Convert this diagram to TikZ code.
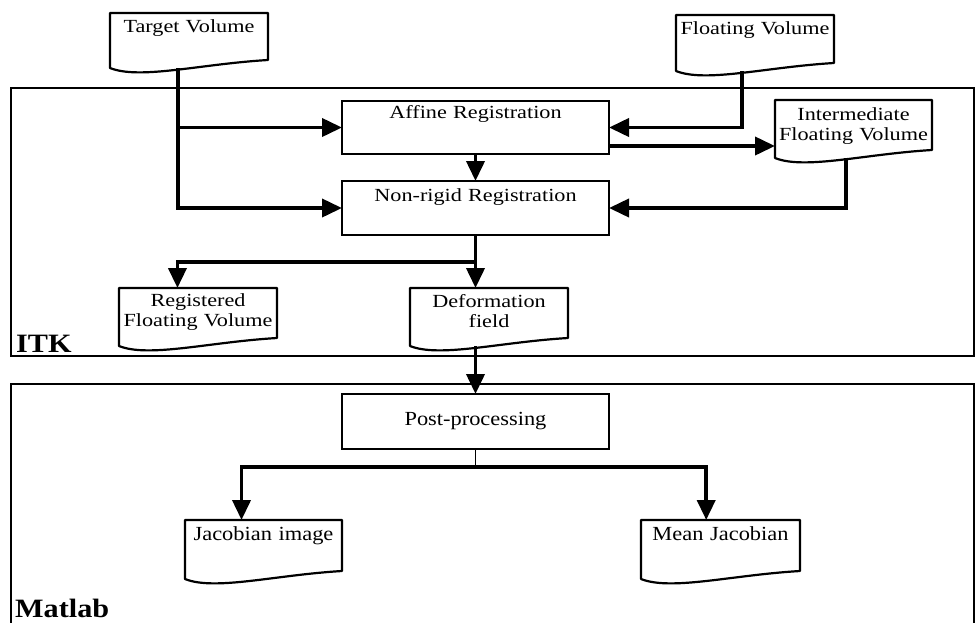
\documentclass[tikz,border=0pt]{standalone}
\usepackage{fontspec}
\setmainfont{Liberation Serif}
\newfontfamily\upfont[FakeStretch=1.2]{Liberation Serif}
\newfontfamily\lowfont[FakeStretch=1.12]{Liberation Serif}
\newfontfamily\lblfont[FakeStretch=1.14]{Liberation Serif}
\usetikzlibrary{arrows.meta,calc}
\begin{document}
\begin{tikzpicture}[x=1pt,y=-1pt,
  frame/.style={draw, line width=2pt, rectangle, inner sep=0pt, outer sep=0pt, anchor=north west},
  proc/.style={draw, line width=2pt, rectangle, inner sep=0pt, outer sep=0pt, anchor=north west, align=center},
  doc/.style={rectangle, inner sep=0pt, outer sep=0pt, anchor=north west, align=center},
  upper/.style={font=\upfont\fontsize{18.5}{20.5}\selectfont},
  lower/.style={font=\lowfont\fontsize{20}{21}\selectfont},
  lbl/.style={anchor=base west, inner sep=0pt, font=\lblfont\bfseries\fontsize{26.5}{28}\selectfont},
  docline/.style={line width=2.2pt, line join=round},
  conn/.style={line width=3.8pt, -{Triangle[length=20pt,width=18pt]}},
  thickline/.style={line width=3.8pt},
  thinline/.style={line width=1.8pt}
]
\useasboundingbox (0,0) rectangle (976,622);

% frames
\node[frame, minimum width=963pt, minimum height=268pt] (itk) at (11,88) {};
\node[frame, minimum width=963pt, minimum height=245pt] (mat) at (11,384) {};
\node[lbl] (itklbl) at (16,352) {ITK};
\node[lbl] (matlbl) at (15,617) {Matlab};

% documents
\node[doc, upper, text width=158pt, text height=19pt, text depth=36pt] (tv) at (110,13) {Target Volume};
\node[doc, upper, text width=158pt, text height=19pt, text depth=37pt] (fv) at (676,15) {Floating Volume};
\node[doc, upper, text width=157pt, text height=20pt, text depth=38pt] (ifv) at (775,100) {Intermediate\\Floating Volume};
\node[doc, upper, text width=158pt, text height=18pt, text depth=40pt] (rfv) at (119,288) {Registered\\Floating Volume};
\node[doc, upper, text width=158pt, text height=19pt, text depth=39pt] (df) at (410,288) {Deformation\\field};
\node[doc, lower, text width=157pt, text height=20pt, text depth=39pt] (ji) at (185,520) {Jacobian image};
\node[doc, lower, text width=159pt, text height=20pt, text depth=39pt] (mj) at (641,520) {Mean Jacobian};

\foreach \n in {tv,fv,ifv,rfv,df,ji,mj}{
  \draw[docline] (\n.south west) -- (\n.north west) -- (\n.north east)
    -- ($(\n.south east)+(0,-8)$)
    .. controls ($(\n.south west)!0.57!(\n.south east)+(0,-4)$) and ($(\n.south west)!0.19!(\n.south east)+(0,12)$) .. (\n.south west) -- cycle;
}

% processes
\node[proc, upper, text width=267pt, text height=17pt, text depth=36pt] (aff) at (342,101) {Affine Registration};
\node[proc, upper, text width=267pt, text height=20pt, text depth=34pt] (nr) at (342,181) {Non-rigid Registration};
\node[proc, lower, text width=267pt, text height=31pt, text depth=24pt] (pp) at (342,394) {Post-processing};

% connectors
\coordinate (tvb) at ($(tv.south west)!0.43!(tv.south east)$);
\draw[conn] (tvb) |- (nr.west);
\draw[conn] (tvb |- aff.west) -- (aff.west);

\coordinate (fvb) at ($(fv.south west)!0.42!(fv.south east)$);
\draw[conn] (fvb) |- (aff.east);

\coordinate (a2) at ($(aff.south east)+(0,-8)$);
\draw[conn] (a2) -- (a2 -| ifv.west);

\coordinate (ifvb) at ($(ifv.south west)!0.45!(ifv.south east)$);
\draw[conn] (ifvb) |- (nr.east);

\draw[conn] (aff.south) -- (nr.north);

\coordinate (j1) at ($(nr.south)+(0,27)$);
\coordinate (rfvt) at ($(rfv.north west)!0.37!(rfv.north east)$);
\draw[thickline] (nr.south) -- (j1);
\draw[conn] (j1) -| (rfvt);
\draw[conn] (j1) -- (j1 |- df.north);

\draw[conn] (pp.north |- df.south) -- (pp.north);

\coordinate (j2) at ($(pp.south)+(0,18)$);
\coordinate (jit) at ($(ji.north west)!0.36!(ji.north east)$);
\coordinate (mjt) at ($(mj.north west)!0.41!(mj.north east)$);
\draw[thinline] (pp.south) -- (j2);
\draw[conn] (j2) -| (jit);
\draw[conn] (j2) -| (mjt);
\end{tikzpicture}
\end{document}
